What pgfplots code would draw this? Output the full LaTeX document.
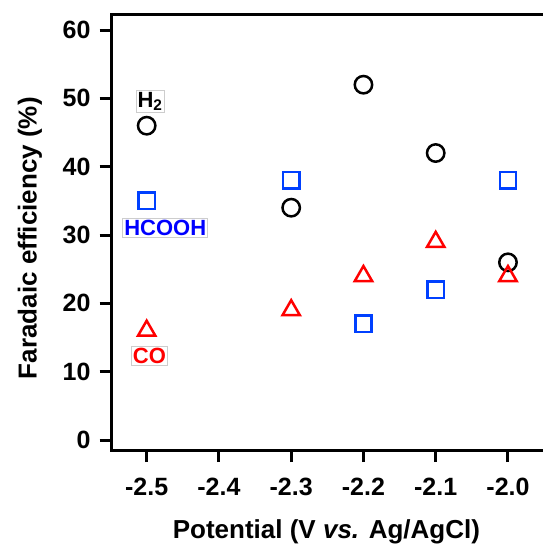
\documentclass[border=0pt]{standalone}
\usepackage{pgfplots}
\pgfplotsset{compat=1.18}
\usepackage{fontspec}
\setmainfont{Liberation Sans}
\definecolor{h2col}{RGB}{0,0,0}
\definecolor{fablue}{RGB}{0,64,255}
\definecolor{fared}{RGB}{255,0,0}
\definecolor{boxgray}{RGB}{205,205,205}

\pgfplotstableread{
pot   h2  hcooh  co
-2.5  46  35     16
-2.3  34  38     19
-2.2  52  17     24
-2.1  42  22     29
-2.0  26  38     24
}\fedata

\begin{document}
\begin{tikzpicture}[x=1pt,y=1pt]
\begin{axis}[
  anchor=south west,
  scale only axis, width=448.3pt, height=435pt,
  xmin=-2.5484, xmax=-1.928,
  ymin=-1.46, ymax=62.2,
  axis line style={line width=3pt},
  tick style={line width=3pt, black},
  tick align=outside,
  major tick length=12pt,
  xtick={-2.5,-2.4,-2.3,-2.2,-2.1,-2.0},
  xticklabels={-2.5,-2.4,-2.3,-2.2,-2.1,-2.0},
  ytick={0,10,20,30,40,50,60},
  yticklabels={0,10,20,30,40,50,60},
  xtick pos=bottom, ytick pos=left,
  ticklabel style={font=\fontsize{25}{28}\selectfont\bfseries},
  yticklabel style={inner sep=0pt, xshift=-9pt},
  xticklabel style={inner sep=0pt, yshift=-16pt},
  xlabel={Potential (V \textit{vs.} Ag/AgCl)},
  ylabel={Faradaic efficiency (\%)},
  label style={font=\fontsize{26}{30}\selectfont\bfseries},
  xlabel style={at={(axis description cs:0.479,0)}, anchor=base, yshift=-88pt},
  ylabel style={at={(axis description cs:0,0.487)}, anchor=base, yshift=75pt},
  clip=false,
]
\addplot[only marks, mark=o, mark size=8.7pt, mark options={line width=2.5pt, draw=h2col}]
  table[x=pot, y=h2] {\fedata};
\addplot[only marks, mark=square, mark size=8.2pt, mark options={line width=2.5pt, draw=fablue}]
  table[x=pot, y=hcooh] {\fedata};
\addplot[only marks, mark=triangle, mark size=10pt, mark options={line width=2.5pt, draw=fared}]
  table[x=pot, y=co] {\fedata};

\node[draw=boxgray, line width=0.8pt, fill=white, inner sep=1.5pt,
      font=\fontsize{22}{24}\selectfont\bfseries, text=black]
  at (axis cs:-2.4954,49.56) {H\textsubscript{2}};
\node[draw=boxgray, line width=0.8pt, fill=white, inner sep=1.5pt,
      font=\fontsize{22}{24}\selectfont\bfseries, text=blue]
  at (axis cs:-2.4743,31.04) {HCOOH};
\node[draw=boxgray, line width=0.8pt, fill=white, inner sep=1.5pt,
      font=\fontsize{22}{24}\selectfont\bfseries, text=fared]
  at (axis cs:-2.4961,12.27) {CO};
\end{axis}
\pgfresetboundingbox
\path (-111.7,-94) rectangle (430.3,450);
\end{tikzpicture}
\end{document}
